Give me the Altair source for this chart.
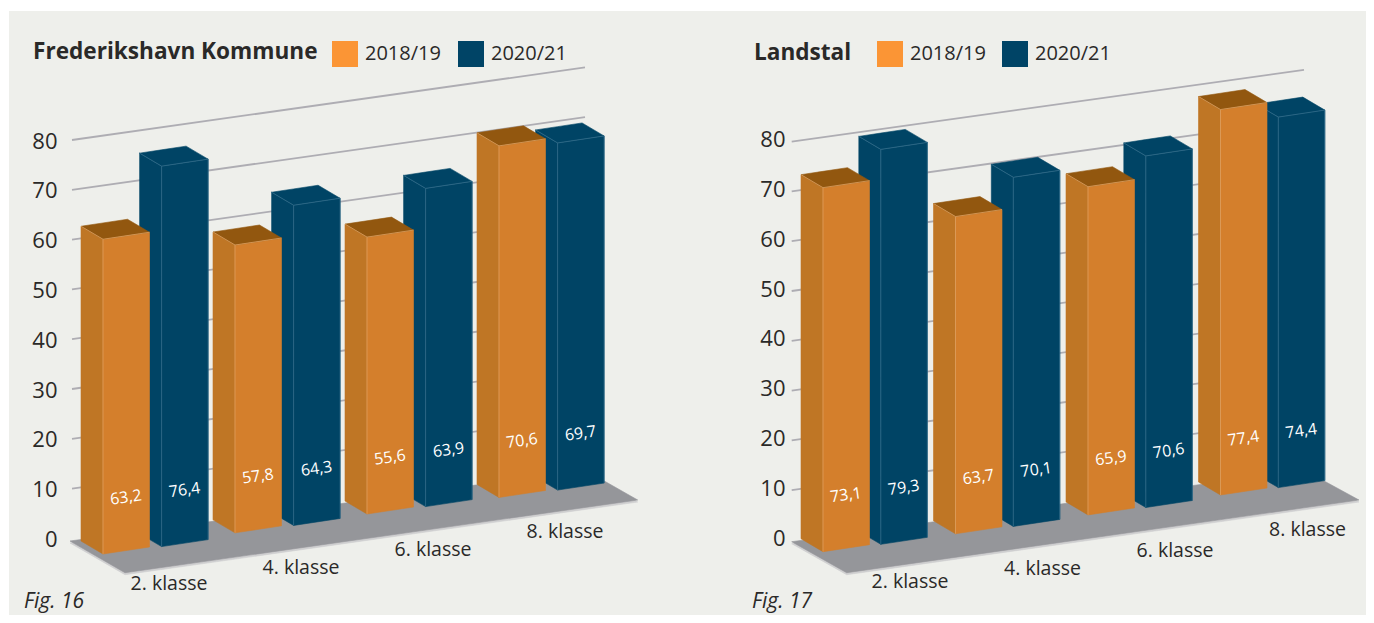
import altair as alt
import pandas as pd

# ---- values ----
GRADES = ["2. klasse", "4. klasse", "6. klasse", "8. klasse"]
SERIES = ["2018/19", "2020/21"]
FRED_1819 = [63.2, 57.8, 55.6, 70.6]
FRED_2021 = [76.4, 64.3, 63.9, 69.7]
LAND_1819 = [73.1, 63.7, 65.9, 77.4]
LAND_2021 = [79.3, 70.1, 70.6, 74.4]
TICKS = [0, 10, 20, 30, 40, 50, 60, 70, 80]
GRID_VALUES = [10, 20, 30, 40, 50, 60, 70, 80]

# ---- styles ----
BG = "#eeefeb"
INK = "#2a2928"
FONT = "Open Sans"
GRID = "#aeadb3"
FLOOR = "#95969a"
RIM = "#cfcfd0"
LEGEND_COL = ["#fb9535", "#004466"]
FACES = {
    "2018/19": dict(front="#d47f2c", side="#bf7625", top="#92570f", edge="#dd9f5f"),
    "2020/21": dict(front="#004465", side="#004465", top="#004465", edge="#336d8b"),
}

# ---- scene geometry (page pixels of the oblique projection) ----
S = 4.98
TOP, H = 11, 604
DEPTH = (22, 13)
BAR_W, BAR_RISE = 46.5, 7.0
PANELS = [
    dict(title="Frederikshavn Kommune", fig="Fig. 16", vals=(FRED_1819, FRED_2021),
         left=9, width=681, axis_y0=538.4, grid_y0=538.4, axis_right=57,
         x0=103, gap=132, blue_dx=58.6, base=(554.0, -22.3, 1.15),
         grid=((72, 585), -0.1415), floor=[(70, 541), (125, 572.7), (637.7, 500), (585, 470)],
         title_x=33, title_y=52, fig_x=24, leg_x=332, col_pad=17, cat_dx=66),
    dict(title="Landstal", fig="Fig. 17", vals=(LAND_1819, LAND_2021),
         left=690, width=676, axis_y0=537.0, grid_y0=540.0, axis_right=785,
         x0=823, gap=132.5, blue_dx=57.8, base=(551.7, -17.4, -0.5),
         grid=((791.7, 1304), -0.1400), floor=[(791.7, 541.7), (846.7, 572.7), (1359, 500), (1304, 470)],
         title_x=754, title_y=53, fig_x=752, leg_x=877, col_pad=16, cat_dx=87),
]
CAT_DY = [30, 35, 36, 35]
LABEL_LIFT = 53
FIG_Y = 602


def poly_rows(pts, name, fill, to_v):
    """Describe a convex polygon as area rows (x, upper, lower)."""
    xs = sorted({p[0] for p in pts})
    rows = []
    n = len(pts)
    for x in xs:
        ys = []
        for k in range(n):
            (x1, y1), (x2, y2) = pts[k], pts[(k + 1) % n]
            lo, hi = min(x1, x2), max(x1, x2)
            if lo <= x <= hi:
                if x1 == x2:
                    ys += [y1, y2]
                else:
                    ys.append(y1 + (y2 - y1) * (x - x1) / (x2 - x1))
        rows.append(dict(x=x, y=to_v(min(ys)), y2=to_v(max(ys)), poly=name, fill=fill))
    return rows


def panel(p):
    to_v = lambda py: (p["axis_y0"] - py) / S
    x_scale = alt.Scale(domain=[p["left"], p["left"] + p["width"]], nice=False, zero=False)
    y_scale = alt.Scale(domain=[to_v(TOP + H), to_v(TOP)], nice=False, zero=False)
    y_axis = alt.Axis(
        values=TICKS, title=None, domain=False, ticks=False, grid=False,
        orient="left", offset=-(p["axis_right"] - p["left"]), labelPadding=0,
        labelFont=FONT, labelFontSize=22, labelColor=INK, labelOverlap=False,
        labelFlush=False, labelOffset=1, format="d")
    X = alt.X("x:Q", scale=x_scale, axis=None)
    Y = alt.Y("y:Q", scale=y_scale, axis=y_axis)
    Y2 = alt.Y2("y2:Q")

    def base_y(i):
        a, b, c = p["base"]
        return a + b * i + c * i * i

    bars = {s: [] for s in SERIES}
    edges = {s: [] for s in SERIES}
    labels, cats = [], []
    for si, s in enumerate(SERIES):
        col = FACES[s]
        for i, g in enumerate(GRADES):
            v = p["vals"][si][i]
            fx = p["x0"] + p["gap"] * i + (p["blue_dx"] if si else 0)
            by = base_y(i) - (7.4 if si else 0)
            rx, rby = fx + BAR_W, by - BAR_RISE
            ty, rty = by - S * v, rby - S * v
            dx, dy = DEPTH
            side = [(fx - dx, by - dy), (fx, by), (fx, ty), (fx - dx, ty - dy)]
            front = [(fx, by), (rx, rby), (rx, rty), (fx, ty)]
            top = [(fx - dx, ty - dy), (fx, ty), (rx, rty), (rx - dx, rty - dy)]
            bars[s] += poly_rows(side, f"{g}{s}side", col["side"], to_v)
            bars[s] += poly_rows(front, f"{g}{s}front", col["front"], to_v)
            bars[s] += poly_rows(top, f"{g}{s}top", col["top"], to_v)
            segs = [[(fx, by), (fx, ty)], [(fx, ty), (rx, rty)], [(fx, ty), (fx - dx, ty - dy)]]
            if si:
                segs.append([(rx, rby), (rx, rty)])
            for k, seg in enumerate(segs):
                for q in seg:
                    edges[s].append(dict(x=q[0], y=to_v(q[1]), seg=f"{g}{k}"))
            labels.append(dict(x=fx + 23, y=to_v(by - BAR_RISE / 2 - LABEL_LIFT),
                               text=f"{v:.1f}".replace(".", ",")))
    for i, g in enumerate(GRADES):
        cats.append(dict(x=p["x0"] + p["gap"] * i + p["cat_dx"],
                         y=to_v(base_y(i) + CAT_DY[i]), text=g))

    # gridlines on the back wall
    (gx0, gx1), slope = p["grid"]
    grid_rows = []
    lift = (p["axis_y0"] - p["grid_y0"]) / S
    for v in GRID_VALUES:
        grid_rows.append(dict(x=gx0, y=v + lift, v=v))
        grid_rows.append(dict(x=gx1, y=v + lift - slope * (gx1 - gx0) / S, v=v))

    floor_rows = poly_rows(p["floor"], "floor", FLOOR, to_v)
    rim_rows = poly_rows([(a, b + 2) for a, b in p["floor"]], "rim", RIM, to_v)

    layers = []
    # invisible carrier of the legend
    legend_df = pd.DataFrame(dict(x=[p["left"] + 300] * 2, y=[50, 50], series=SERIES))
    layers.append(
        alt.Chart(legend_df).mark_point(filled=True, opacity=0).encode(
            x=X, y=Y,
            color=alt.Color("series:N", scale=alt.Scale(domain=SERIES, range=LEGEND_COL),
                            legend=alt.Legend(
                                orient="none", legendX=p["leg_x"] - p["left"], legendY=TOP + 19,
                                direction="horizontal", title=None, symbolType="square",
                                symbolSize=676, symbolOpacity=1, symbolStrokeWidth=0,
                                labelFont=FONT, labelFontSize=20, labelColor=INK,
                                labelOffset=7, columnPadding=p["col_pad"], padding=0)),
        )
    )
    # gridlines
    layers.append(alt.Chart(pd.DataFrame(grid_rows)).mark_line(color=GRID, strokeWidth=1.8).encode(
        x=X, y=Y, detail="v:N"))

    def area_layer(rows):
        return alt.Chart(pd.DataFrame(rows)).mark_area(strokeWidth=0.6).encode(
            x=X, y=Y, y2=Y2, detail="poly:N",
            fill=alt.Fill("fill:N", scale=None),
            stroke=alt.Stroke("fill:N", scale=None))

    layers.append(area_layer(rim_rows))
    layers.append(area_layer(floor_rows))
    for s in reversed(SERIES):
        layers.append(area_layer(bars[s]))
        layers.append(alt.Chart(pd.DataFrame(edges[s])).mark_line(
            color=FACES[s]["edge"], strokeWidth=0.8).encode(x=X, y=Y, detail="seg:N"))

    layers.append(alt.Chart(pd.DataFrame(labels)).mark_text(
        font=FONT, fontSize=16, color="#ffffff", angle=352, align="center", baseline="middle"
    ).encode(x=X, y=Y, text="text:N"))
    layers.append(alt.Chart(pd.DataFrame(cats)).mark_text(
        font=FONT, fontSize=19.5, color=INK, align="center", baseline="middle"
    ).encode(x=X, y=Y, text="text:N"))
    layers.append(alt.Chart(pd.DataFrame([dict(x=p["title_x"], y=to_v(p["title_y"]), text=p["title"])])).mark_text(
        font=FONT, fontSize=22.6, fontWeight="bold", color=INK, align="left", baseline="middle"
    ).encode(x=X, y=Y, text="text:N"))
    layers.append(alt.Chart(pd.DataFrame([dict(x=p["fig_x"], y=to_v(FIG_Y), text=p["fig"])])).mark_text(
        font=FONT, fontSize=21, fontStyle="italic", color=INK, align="left", baseline="middle"
    ).encode(x=X, y=Y, text="text:N"))

    return alt.layer(*layers).properties(width=p["width"], height=H)


chart = (
    alt.hconcat(*[panel(p) for p in PANELS], spacing=0)
    .resolve_scale(color="independent", x="independent", y="independent")
    .properties(padding={"left": 1, "top": 3, "right": 0, "bottom": 0}, background="transparent")
    .configure_view(fill=BG, strokeWidth=0)
)
chart.save("out.html", embed_options={"renderer": "svg", "actions": False})
